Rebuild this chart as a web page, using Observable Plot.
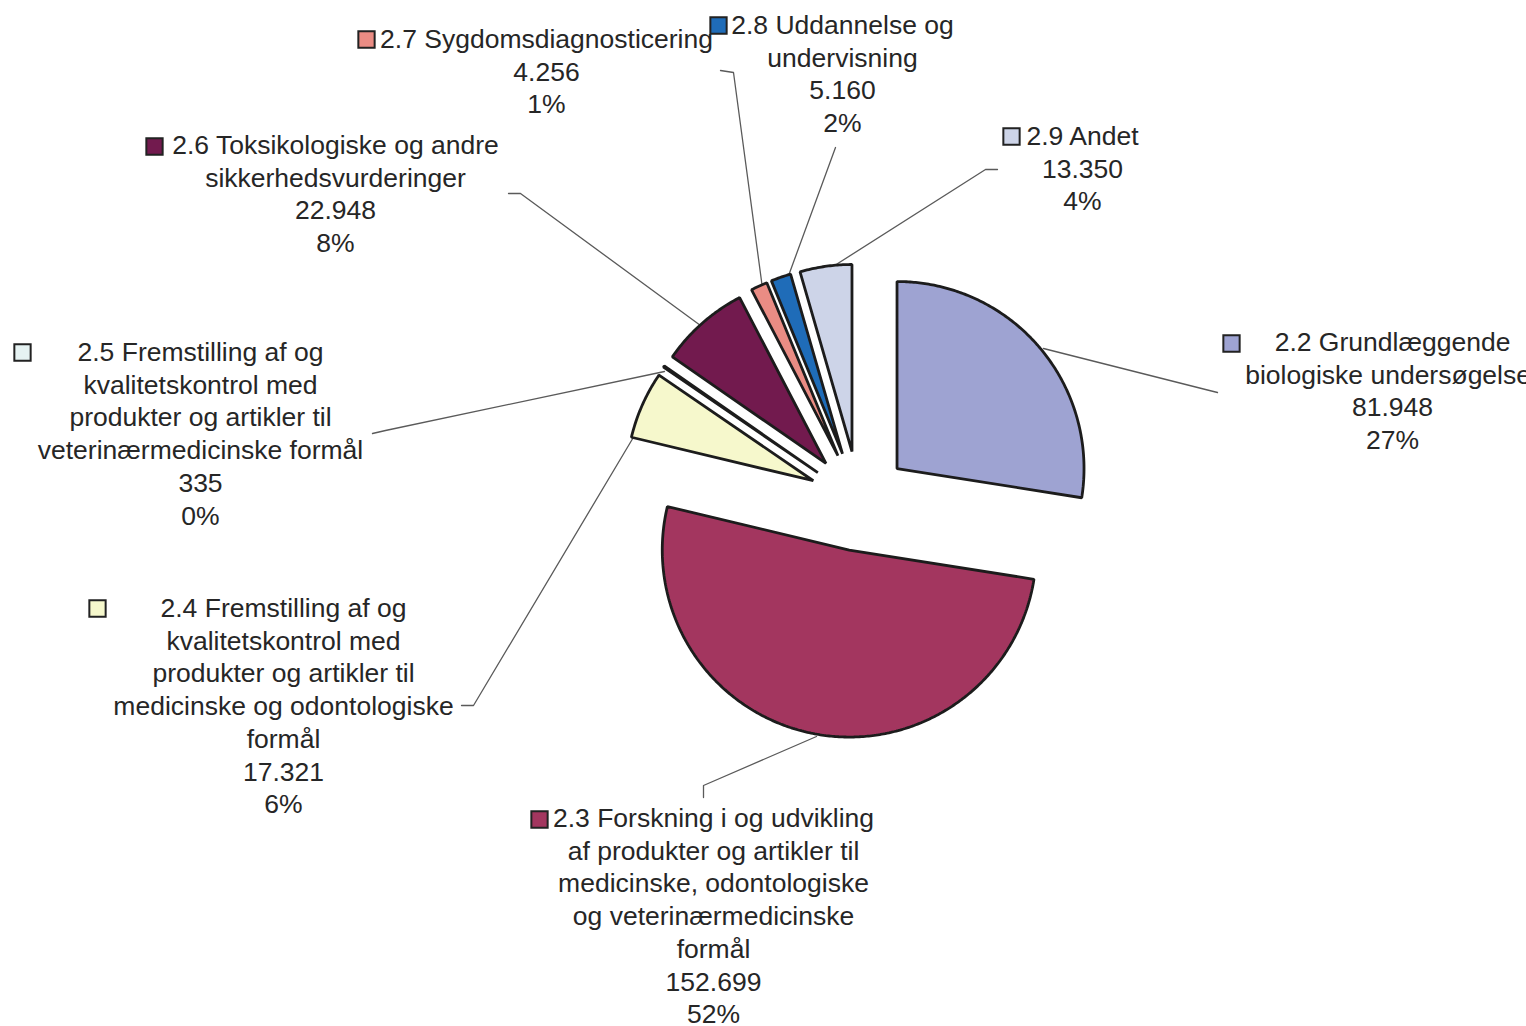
<!DOCTYPE html>
<html>
<head>
<meta charset="utf-8">
<script src="https://cdn.jsdelivr.net/npm/d3@7"></script>
<script src="https://cdn.jsdelivr.net/npm/@observablehq/plot@0.6"></script>
<style>
  html, body { margin: 0; padding: 0; background: #ffffff; overflow: hidden; }
  #chart svg { display: block; }
</style>
</head>
<body>
<div id="chart"></div>
<script>
// ---------- DATA ----------
const categories = ["2.2", "2.3", "2.4", "2.5", "2.6", "2.7", "2.8", "2.9"];
const categoryLines = [
  ["2.2 Grundlæggende", "biologiske undersøgelser"],
  ["2.3 Forskning i og udvikling", "af produkter og artikler til", "medicinske, odontologiske", "og veterinærmedicinske", "formål"],
  ["2.4 Fremstilling af og", "kvalitetskontrol med", "produkter og artikler til", "medicinske og odontologiske", "formål"],
  ["2.5 Fremstilling af og", "kvalitetskontrol med", "produkter og artikler til", "veterinærmedicinske formål"],
  ["2.6 Toksikologiske og andre", "sikkerhedsvurderinger"],
  ["2.7 Sygdomsdiagnosticering"],
  ["2.8 Uddannelse og", "undervisning"],
  ["2.9 Andet"]
];
const values = [81948, 152699, 17321, 335, 22948, 4256, 5160, 13350];
const percentLabels = ["27%", "52%", "6%", "0%", "8%", "1%", "2%", "4%"];

// ---------- STYLE ----------
const sliceColors = ["#9ea3d2", "#a3365f", "#f6f8cc", "#e6f3f3", "#721a4e", "#ea8c84", "#1f6cb8", "#cdd4e8"];

// ---------- LAYOUT (pixel frame of the picture) ----------
const W = 1526, H = 1026;
const CX = 859, CY = 501, R = 187, EXPLODE = 50;
const LINE_GAP = 32.75;
// text centre x, first line y, legend-key x, legend-key y
const labelLayout = [
  {x: 1392, y: 342, kx: 1231, ky: 343},
  {x: 713,  y: 818, kx: 539,  ky: 819},
  {x: 283,  y: 608, kx: 97,   ky: 608},
  {x: 200,  y: 352, kx: 22,   ky: 352},
  {x: 335,  y: 145, kx: 154,  ky: 146},
  {x: 546,  y: 39,  kx: 366,  ky: 39},
  {x: 842,  y: 25,  kx: 718,  ky: 25},
  {x: 1082, y: 136, kx: 1011, ky: 136}
];
const leaderLayout = [
  [[1217, 392], [1205, 389], [1043, 348]],
  [[703, 797], [703, 785], [816, 736]],
  [[461, 705], [473, 705], [637, 430]],
  [[372, 433], [385, 430], [664, 371]],
  [[508, 193], [520, 193], [700, 325]],
  [[720, 70], [733, 72], [762, 288]],
  [[835, 147], [787, 278]],
  [[997, 169], [985, 169], [831, 267]]
];

// ---------- BUILD ----------
const fmt = d3.formatLocale({decimal: ",", thousands: ".", grouping: [3], currency: ["", " kr"]}).format(",d");
const total = d3.sum(values);

let acc = 0;
const sliceRows = [];
values.forEach((v, i) => {
  const a0 = acc / total * 2 * Math.PI;
  acc += v;
  const a1 = acc / total * 2 * Math.PI;
  const mid = (a0 + a1) / 2;
  const ax = CX + EXPLODE * Math.sin(mid);
  const ay = CY - EXPLODE * Math.cos(mid);
  const n = Math.max(2, Math.ceil((a1 - a0) / 0.01));
  for (let k = 0; k <= n; k++) {
    const t = a0 + (a1 - a0) * k / n;
    sliceRows.push({i, cat: categories[i], x1: ax, y1: ay, x2: ax + R * Math.sin(t), y2: ay - R * Math.cos(t)});
  }
});

const textRows = [];
categories.forEach((c, i) => {
  const lines = [...categoryLines[i], fmt(values[i]), percentLabels[i]];
  lines.forEach((t, j) => textRows.push({x: labelLayout[i].x, y: labelLayout[i].y + j * LINE_GAP, text: t}));
});

const keyRows = categories.map((c, i) => ({x: labelLayout[i].kx, y: labelLayout[i].ky, i}));

const leaderRows = [];
leaderLayout.forEach((pts, i) => pts.forEach(([x, y]) => leaderRows.push({i, x, y})));

const chart = Plot.plot({
  width: W,
  height: H,
  margin: 0,
  x: {domain: [0, W], range: [0, W], axis: null},
  y: {domain: [0, H], range: [0, H], axis: null},
  style: {background: "#ffffff", fontFamily: "'Liberation Sans', Arial, Helvetica, sans-serif"},
  marks: [
    Plot.line(leaderRows, {x: "x", y: "y", z: "i", stroke: "#5a5a5a", strokeWidth: 1.3, curve: "linear"}),
    Plot.area(sliceRows, {
      x1: "x1", y1: "y1", x2: "x2", y2: "y2", z: "cat",
      fill: d => sliceColors[d.i],
      stroke: "#1c1c1c", strokeWidth: 2.8, strokeLinejoin: "miter"
    }),
    Plot.dot(keyRows, {
      x: "x", y: "y", symbol: "square", r: 9.2,
      fill: d => sliceColors[d.i], stroke: "#222222", strokeWidth: 2
    }),
    Plot.text(textRows, {
      x: "x", y: "y", text: "text", textAnchor: "middle",
      fontSize: 26.5, fill: "#262626",
      fontFamily: "'Liberation Sans', Arial, Helvetica, sans-serif"
    })
  ]
});
document.getElementById("chart").appendChild(chart);
</script>
</body>
</html>
